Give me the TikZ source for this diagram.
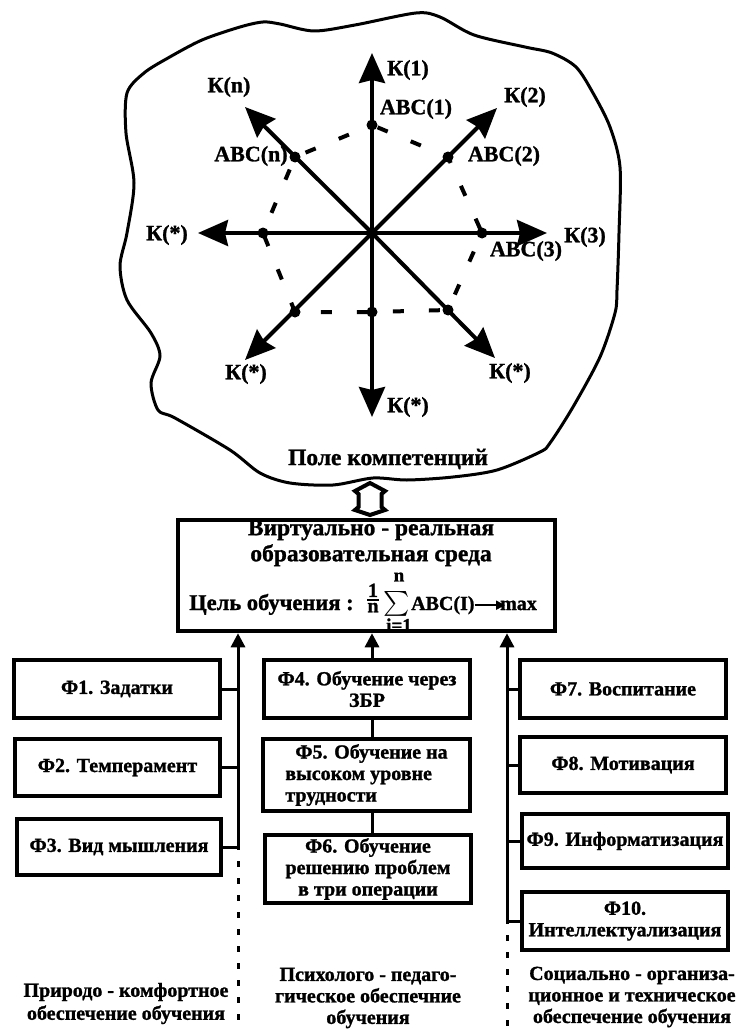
\documentclass[tikz,border=0pt]{standalone}
\usepackage{exscale}
\usepackage{fontspec}
\setmainfont{Liberation Serif}[BoldFeatures={FakeBold=1.2}]
\usetikzlibrary{arrows.meta}
\newcommand\myfs[2]{\fontsize{#1}{#2}\selectfont\bfseries}
\begin{document}
\begin{tikzpicture}[x=1pt,y=-1pt,
  lbl/.style={inner sep=0pt, font=\myfs{22}{24}},
  star/.style={line width=4pt, -{Stealth[length=30pt,width=26pt,inset=3pt]}},
  dotnode/.style={circle, fill=black, inner sep=0pt, minimum size=11pt},
  ring/.style={line width=4pt, dash pattern=on 11pt off 25pt, dash phase=-6pt},
  fbox/.style={draw, line width=4.5pt, inner sep=0pt, align=center, font=\myfs{20}{21.5}},
  conn/.style={line width=3pt},
  uparrow/.style={line width=3pt, -{Triangle[length=14pt,width=14pt]}},
  dotline/.style={line width=3pt, dash pattern=on 6pt off 11pt, dash phase=3pt},
  foot/.style={inner sep=0pt, align=center, font=\myfs{20}{21.5}},
  fline/.style={line width=2pt, -{Triangle[length=9pt,width=9pt]}}
]
\useasboundingbox (0,0) rectangle (740,1030);
\fill[white] (0,0) rectangle (740,1030);

% field of competences
\draw[line width=3pt] plot[smooth cycle, tension=0.5] coordinates {
 (127,93) (144,73) (168,58) (202,40) (240,27) (263,22) (280,24) (314,31)
 (355,25) (416,13) (440,17) (474,35) (525,47) (552,53) (576,67) (593,93)
 (610,127) (620,167) (619,233) (617,290) (615,313) (600,357) (573,407)
 (550,443) (540,452) (497,470) (453,477) (407,480) (373,478) (333,485)
 (290,483) (260,473) (230,450) (175,418) (158,410) (151,383) (160,356)
 (151,333) (127,300) (120,266) (127,233) (134,183) (126,133)};

% star of competences
\coordinate (O) at (372,233);
\coordinate (t1) at (372,53);
\coordinate (t2) at (497,108);
\coordinate (t3) at (547,233);
\coordinate (t4) at (495,358);
\coordinate (t5) at (372,417);
\coordinate (t6) at (245,360);
\coordinate (t7) at (198,233);
\coordinate (t8) at (245,107);
\foreach \t in {t1,t2,t3,t4,t5,t6,t7,t8} \draw[star] (O) -- (\t);

\node[dotnode] (d1) at (372,125) {};
\node[dotnode] (d2) at (448,157) {};
\node[dotnode] (d3) at (482,233) {};
\node[dotnode] (d4) at (448,310) {};
\node[dotnode] (d5) at (372,312) {};
\node[dotnode] (d6) at (295,312) {};
\node[dotnode] (d7) at (263,233) {};
\node[dotnode] (d8) at (295,157) {};
\draw[ring] (d1.center) -- (d2.center) -- (d3.center) -- (d4.center) -- (d5.center)
  -- (d6.center) -- (d7.center) -- (d8.center) -- cycle;

\node[lbl] (k1) at (408,70) {К(1)};
\node[lbl] (kn) at (229,87) {К(n)};
\node[lbl] (a1) at (416,109) {ABC(1)};
\node[lbl] (k2) at (525,97) {К(2)};
\node[lbl] (an) at (251,156) {ABC(n)};
\node[lbl] (a2) at (504,156) {ABC(2)};
\node[lbl] (kl) at (167,235) {К(*)};
\node[lbl] (k3) at (585,237) {К(3)};
\node[lbl] (a3) at (526,251) {ABC(3)};
\node[lbl] (ksw) at (246,374) {К(*)};
\node[lbl] (ks) at (408,407) {К(*)};
\node[lbl] (kse) at (510,373) {К(*)};

\node[inner sep=0pt, font=\myfs{23.5}{26}] (field) at (388,459) {Поле компетенций};

% main box
\node[fbox, minimum width=377pt, minimum height=111pt] (main) at (366.5,575.5) {};
\node[inner sep=0pt, align=center, font=\myfs{23.5}{26}] (title) at (371,543)
  {Виртуально - реальная\\образовательная среда};
\node[anchor=base west, inner sep=0pt, font=\myfs{22.5}{26}] (goal) at (189,610) {Цель обучения :};
\node[inner sep=0pt, font=\myfs{20}{22}] (frac) at (373,598) {$\mbox{1}\above1.2pt\mbox{n}$};
\node[inner sep=0pt, font=\myfs{25}{27}] (sig) at (397,604) {$\sum$};
\node[inner sep=0pt, font=\myfs{19}{20}] (upn) at (399,577) {n};
\node[inner sep=0pt, font=\myfs{19}{20}] (low) at (399,625) {i=1};
\node[anchor=base west, inner sep=0pt, font=\myfs{20}{22}] (abc) at (411,610) {ABC(I)};
\node[anchor=base west, inner sep=0pt, font=\myfs{20}{22}] (max) at (500,610) {max};
\draw[fline] (abc.east) -- ([xshift=5pt]abc.east -| max.west);

% double arrow between field and environment
\coordinate (da) at (370,483);
\draw[line width=4pt, line join=miter] (da) -- ++(15,8) -- ++(-3.5,3) -- ++(0,13)
  -- ++(3.5,3) -- ++(-15,5) -- ++(-15,-5) -- ++(3.5,-3) -- ++(0,-13) -- ++(-3.5,-3) -- cycle;

% factor boxes
\node[fbox, minimum width=206pt, minimum height=58pt] (f1) at (117,689) {Ф1. Задатки};
\node[fbox, minimum width=205pt, minimum height=57pt] (f2) at (117.5,767.5) {Ф2. Темперамент};
\node[fbox, minimum width=204pt, minimum height=56pt] (f3) at (119,847) {Ф3. Вид мышления};
\node[fbox, minimum width=206pt, minimum height=58pt] (f4) at (367,689) {Ф4. Обучение через\\ЗБР};
\node[fbox, minimum width=207pt, minimum height=72pt, align=left] (f5) at (366.5,775)
  {\hspace*{10pt}Ф5. Обучение на\\высоком уровне\\трудности};
\node[fbox, minimum width=206pt, minimum height=68pt] (f6) at (368,869) {Ф6. Обучение\\решению проблем\\в три операции};
\node[fbox, minimum width=206pt, minimum height=58pt] (f7) at (623,689) {Ф7. Воспитание};
\node[fbox, minimum width=206pt, minimum height=56pt] (f8) at (623,765) {Ф8. Мотивация};
\node[fbox, minimum width=206pt, minimum height=54pt] (f9) at (625,841) {Ф9. Информатизация};
\node[fbox, minimum width=206pt, minimum height=58pt] (f10) at (625,921) {Ф10.\\Интеллектуализация};

\coordinate (lx) at (238,0);
\coordinate (mx) at (372,0);
\coordinate (rx) at (507,0);
\coordinate (bot) at (0,1030);

% left group
\draw[uparrow] (f3.east -| lx) -- (main.south -| lx);
\foreach \f in {f1,f2,f3} \draw[conn] (\f.east) -- (\f.east -| lx);
\draw[dotline] (f3.east -| lx) -- (bot -| lx);
% middle group
\draw[uparrow] (f4.north -| mx) -- (main.south -| mx);
\draw[conn] (f4.south -| mx) -- (f5.north -| mx);
\draw[conn] (f5.south -| mx) -- (f6.north -| mx);
% right group
\draw[uparrow] (f10.west -| rx) -- (main.south -| rx);
\foreach \f in {f7,f8,f9,f10} \draw[conn] (\f.west) -- (\f.west -| rx);
\draw[dotline] (f10.west -| rx) -- (bot -| rx);

% group labels
\node[foot, font=\myfs{20}{23}] (g1) at (126,1003.5) {Природо - комфортное\\обеспечение обучения};
\node[foot] (g2) at (368,998) {Психолого - педаго-\\гическое обеспечние\\обучения};
\node[foot] (g3) at (632,997) {Социально - организа-\\ционное и техническое\\обеспечение обучения};
\end{tikzpicture}
\end{document}
